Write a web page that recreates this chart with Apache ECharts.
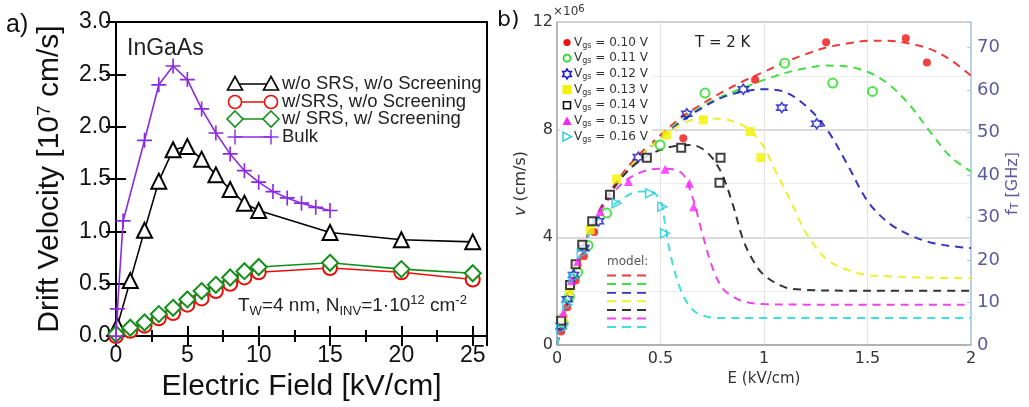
<!DOCTYPE html>
<html>
<head>
<meta charset="utf-8">
<script src="https://cdn.jsdelivr.net/npm/echarts@6/dist/echarts.min.js"></script>
<style>
  html, body { margin: 0; padding: 0; background: #fff; }
  #chart { width: 1029px; height: 407px; }
</style>
</head>
<body>
<div id="chart"></div>
<script>
// ---------- Panel a: InGaAs drift velocity vs electric field ----------
const namesA = ['w/o SRS, w/o Screening', 'w/SRS, w/o Screening', 'w/ SRS, w/ Screening', 'Bulk'];
const fieldNoSrs = [0.1, 1, 2, 3, 4, 5, 6, 7, 8, 9, 10, 15, 20, 25];
const velNoSrsNoScr = [0.10, 0.53, 1.01, 1.48, 1.78, 1.81, 1.69, 1.54, 1.40, 1.27, 1.20, 0.99, 0.92, 0.90];
const fieldSrs = [0, 1, 2, 3, 4, 5, 6, 7, 8, 9, 10, 15, 20, 25];
const velSrsNoScr = [0.00, 0.05, 0.10, 0.17, 0.22, 0.30, 0.36, 0.43, 0.50, 0.56, 0.61, 0.65, 0.61, 0.54];
const velSrsScr = [0.02, 0.08, 0.13, 0.21, 0.27, 0.35, 0.43, 0.49, 0.56, 0.62, 0.66, 0.70, 0.64, 0.60];
const fieldBulk = [0, 0.1, 0.5, 2, 3, 4, 5, 6, 7, 8, 9, 10, 11, 12, 13, 14, 15];
const velBulk = [0, 0.26, 1.10, 1.87, 2.40, 2.58, 2.45, 2.17, 1.94, 1.74, 1.58, 1.47, 1.38, 1.32, 1.27, 1.23, 1.20];

// ---------- Panel b: velocity vs field at T = 2 K, per gate voltage ----------
const gateVoltages = ['0.10', '0.11', '0.12', '0.13', '0.14', '0.15', '0.16'];

// measured points [E (kV/cm), v (1e6 cm/s)]
const meas010 = [[0.02,0.5],[0.05,1.4],[0.09,2.4],[0.13,3.3],[0.18,4.2],[0.61,7.68],[0.957,9.85],[1.30,11.25],[1.685,11.4],[1.787,10.5]];
const meas011 = [[0.03,0.8],[0.06,1.8],[0.10,2.7],[0.15,3.7],[0.24,4.9],[0.498,7.43],[0.715,9.36],[1.10,10.47],[1.332,9.73],[1.524,9.42]];
const meas012 = [[0.02,0.7],[0.05,1.7],[0.08,2.6],[0.13,3.6],[0.20,4.6],[0.393,6.98],[0.627,8.59],[0.90,9.5],[1.086,8.82],[1.255,8.22]];
const meas013 = [[0.03,1.0],[0.06,2.0],[0.10,3.0],[0.16,4.28],[0.288,6.17],[0.53,7.8],[0.707,8.36],[0.933,7.93],[0.985,6.96]];
const meas014 = [[0.02,0.9],[0.063,2.23],[0.09,3.0],[0.122,3.72],[0.17,4.6],[0.256,5.58],[0.434,6.96],[0.60,7.33],[0.79,6.96],[0.785,6.03]];
const meas015 = [[0.03,1.2],[0.07,2.4],[0.10,3.1],[0.208,4.96],[0.345,6.07],[0.522,6.53],[0.64,6.01],[0.66,5.14]];
const meas016 = [[0.02,0.6],[0.05,1.5],[0.08,2.5],[0.12,3.4],[0.288,5.27],[0.45,5.64],[0.509,5.14],[0.522,4.15]];

// model curves
const modelE010 = [0,0.05,0.1,0.15,0.2,0.3,0.4,0.5,0.6,0.7,0.8,0.9,1.0,1.1,1.2,1.3,1.4,1.5,1.6,1.7,1.8,1.9,2.0];
const modelV010 = [0,1.6,3.0,4.1,4.95,6.2,7.1,7.8,8.45,8.95,9.4,9.8,10.15,10.5,10.8,11.05,11.2,11.3,11.3,11.2,11.0,10.6,10.0];
const modelE011 = [0,0.05,0.1,0.15,0.2,0.3,0.4,0.5,0.6,0.7,0.8,0.9,1.0,1.1,1.2,1.3,1.4,1.5,1.6,1.7,1.8,1.9,2.0];
const modelV011 = [0,1.6,3.0,4.1,4.9,6.1,7.0,7.7,8.35,8.85,9.25,9.55,9.85,10.1,10.28,10.38,10.35,10.15,9.7,8.95,7.95,7.0,6.45];
const modelE012 = [0,0.05,0.1,0.15,0.2,0.3,0.4,0.5,0.6,0.7,0.8,0.9,1.0,1.1,1.2,1.3,1.4,1.5,1.6,1.7,1.8,1.9,2.0];
const modelV012 = [0,1.6,3.0,4.1,4.9,6.1,7.0,7.65,8.3,8.8,9.2,9.42,9.5,9.4,8.9,8.05,6.75,5.35,4.55,4.1,3.82,3.68,3.6];
const modelE013 = [0,0.05,0.1,0.15,0.2,0.3,0.4,0.5,0.6,0.7,0.8,0.9,0.95,1.0,1.05,1.1,1.15,1.2,1.3,1.4,1.5,1.6,1.8,2.0];
const modelV013 = [0,1.6,3.0,4.1,4.9,6.1,7.0,7.65,8.2,8.42,8.4,8.15,7.85,7.35,6.55,5.8,5.0,4.2,3.2,2.8,2.6,2.55,2.5,2.48];
const modelE014 = [0,0.05,0.1,0.15,0.2,0.3,0.4,0.5,0.6,0.65,0.7,0.75,0.8,0.85,0.9,0.95,1.0,1.1,1.2,1.4,1.6,2.0];
const modelV014 = [0,1.6,3.0,4.1,4.9,6.1,6.85,7.25,7.42,7.43,7.3,6.95,6.3,5.2,3.9,3.1,2.6,2.15,2.05,2.02,2.02,2.02];
const modelE015 = [0,0.05,0.1,0.15,0.2,0.3,0.4,0.5,0.6,0.65,0.7,0.75,0.8,0.85,0.9,1.0,1.2,1.5,2.0];
const modelV015 = [0,1.6,3.0,4.1,4.85,5.9,6.4,6.55,6.4,5.6,4.2,2.9,2.1,1.8,1.62,1.52,1.5,1.5,1.5];
const modelE016 = [0,0.05,0.1,0.15,0.2,0.3,0.4,0.45,0.5,0.52,0.55,0.6,0.65,0.7,0.8,1.0,1.5,2.0];
const modelV016 = [0,1.6,3.0,4.0,4.7,5.35,5.7,5.7,5.35,4.6,3.3,2.0,1.35,1.1,1.0,1.0,1.0,1.0];

const FA = 'Liberation Sans';
const FB = 'DejaVu Sans';

const zip = (xs, ys) => xs.map((x, i) => [x, ys[i]]);

const hexagram = 'path://M10,0L12.89,5L18.66,5L15.77,10L18.66,15L12.89,15L10,20L7.11,15L1.34,15L4.23,10L1.34,5L7.11,5Z';
const rightTri = 'path://M0,0L10,5L0,10Z';
const crossMark = 'path://M0,4.45H10V5.55H0Z M4.45,0H5.55V10H4.45Z';

// per-voltage look: marker colour, line colour, symbol, filled?, size
const styleB = [
  { mc: '#ee1111', lc: '#f03a3a', sym: 'circle', fill: true, size: 8 },
  { mc: '#22dd22', lc: '#44dd44', sym: 'emptyCircle', fill: false, size: 9 },
  { mc: '#1515cc', lc: '#3535c0', sym: hexagram, fill: false, size: 10 },
  { mc: '#f2f200', lc: '#eeee30', sym: 'rect', fill: true, size: 9 },
  { mc: '#111111', lc: '#333333', sym: 'emptyRect', fill: false, size: 8 },
  { mc: '#ff22ff', lc: '#ee44ee', sym: 'triangle', fill: true, size: 9 },
  { mc: '#22ccdd', lc: '#44dde0', sym: rightTri, fill: false, size: 9 }
];
const measB = [meas010, meas011, meas012, meas013, meas014, meas015, meas016];
const modelB = [zip(modelE010, modelV010), zip(modelE011, modelV011), zip(modelE012, modelV012),
  zip(modelE013, modelV013), zip(modelE014, modelV014), zip(modelE015, modelV015), zip(modelE016, modelV016)];

// ---------- series ----------
const colorsA = ['#000000', '#e8100a', '#13901a', '#8a2be2'];
const series = [
  { name: namesA[0], data: zip(fieldNoSrs, velNoSrsNoScr), symbol: 'emptyTriangle', symbolSize: 15 },
  { name: namesA[1], data: zip(fieldSrs, velSrsNoScr), symbol: 'emptyCircle', symbolSize: 14 },
  { name: namesA[2], data: zip(fieldSrs, velSrsScr), symbol: 'emptyDiamond', symbolSize: 16 },
  { name: namesA[3], data: zip(fieldBulk, velBulk), symbol: crossMark, symbolSize: 15 }
].map((s, i) => ({
  type: 'line', xAxisIndex: 0, yAxisIndex: 0, name: s.name, data: s.data,
  symbol: s.symbol, symbolSize: s.symbolSize, showAllSymbol: true,
  lineStyle: { color: colorsA[i], width: 1.6 },
  itemStyle: { color: colorsA[i], borderWidth: i === 3 ? 0 : 1.6 },
  z: 3 + i, animation: false
}));

modelB.forEach((d, i) => series.push({
  type: 'line', xAxisIndex: 2, yAxisIndex: 2, name: 'model ' + gateVoltages[i], data: d,
  smooth: 0.35, symbol: 'none',
  lineStyle: { color: styleB[i].lc, width: 2, type: [8, 6] }, z: 2
}));
measB.forEach((d, i) => {
  const st = styleB[i];
  const custom = st.sym.indexOf('path://') === 0;
  series.push({
    type: 'scatter', xAxisIndex: 2, yAxisIndex: 2, name: 'V_gs = ' + gateVoltages[i] + ' V', data: d,
    symbol: st.sym, symbolSize: st.size,
    itemStyle: custom
      ? { color: 'rgba(255,255,255,0)', borderColor: st.mc, borderWidth: 1.6 }
      : { color: st.mc, borderWidth: st.fill ? 0 : 1.8, borderColor: st.mc },
    z: 4
  });
});

// ---------- legend and annotations ----------
const graphics = [];
// panel a legend: symbol at both ends of a short line
const legAY = [84, 102, 119, 137];
namesA.forEach((nm, i) => {
  const y = legAY[i], c = colorsA[i], xs = [235, 271];
  graphics.push({ type: 'line', shape: { x1: xs[0], y1: y, x2: xs[1], y2: y }, style: { stroke: c, lineWidth: 1.6 }, z: 10 });
  xs.forEach(x => {
    if (i === 0) graphics.push({ type: 'polygon', shape: { points: [[x, y - 7.5], [x + 7.5, y + 6], [x - 7.5, y + 6]] }, style: { fill: '#fff', stroke: c, lineWidth: 1.6 }, z: 11 });
    if (i === 1) graphics.push({ type: 'circle', shape: { cx: x, cy: y, r: 6.5 }, style: { fill: '#fff', stroke: c, lineWidth: 1.6 }, z: 11 });
    if (i === 2) graphics.push({ type: 'polygon', shape: { points: [[x, y - 8], [x + 8, y], [x, y + 8], [x - 8, y]] }, style: { fill: '#fff', stroke: c, lineWidth: 1.6 }, z: 11 });
    if (i === 3) {
      graphics.push({ type: 'line', shape: { x1: x - 7.5, y1: y, x2: x + 7.5, y2: y }, style: { stroke: c, lineWidth: 1.4 }, z: 11 });
      graphics.push({ type: 'line', shape: { x1: x, y1: y - 7.5, x2: x, y2: y + 7.5 }, style: { stroke: c, lineWidth: 1.4 }, z: 11 });
    }
  });
  graphics.push({ type: 'text', x: 282, y: y, style: { text: nm, fontFamily: FA, fontSize: 18.5, fill: '#222', align: 'left', verticalAlign: 'middle' }, z: 11 });
});
graphics.push({ type: 'text', x: 6, y: 25, style: { text: 'a)', fontFamily: FA, fontSize: 25, fill: '#111', align: 'left', verticalAlign: 'middle' } });
graphics.push({ type: 'text', x: 127, y: 49, style: { text: 'InGaAs', fontFamily: FA, fontSize: 23, fill: '#222', align: 'left', verticalAlign: 'middle' } });
graphics.push({ type: 'text', x: 238, y: 306, style: {
  text: 'T{sub|W}=4 nm, N{sub|INV}=1·10{sup|12} cm{sup|-2}', fontFamily: FA, fontSize: 19, fill: '#222', align: 'left', verticalAlign: 'middle',
  rich: { sub: { fontFamily: FA, fontSize: 13, fill: '#222', verticalAlign: 'bottom', padding: [11, 0, 0, 0] },
          sup: { fontFamily: FA, fontSize: 13, fill: '#222', verticalAlign: 'top', padding: [0, 0, 9, 0] } }
} });

// panel b labels
graphics.push({ type: 'text', x: 497, y: 20, style: { text: 'b)', fontFamily: FB, fontSize: 22, fill: '#111', align: 'left', verticalAlign: 'middle' } });
graphics.push({ type: 'text', x: 553, y: 12, style: {
  text: '×10{sup|6}', fontFamily: FB, fontSize: 12, fill: '#333', align: 'left', verticalAlign: 'middle',
  rich: { sup: { fontFamily: FB, fontSize: 10, fill: '#333', verticalAlign: 'top', padding: [0, 0, 6, 0] } }
} });
graphics.push({ type: 'text', x: 695, y: 43, style: { text: 'T = 2 K', fontFamily: FB, fontSize: 15, fill: '#222', align: 'left', verticalAlign: 'middle' } });

// panel b legend (white box) with voltage entries
graphics.push({ type: 'rect', shape: { x: 560, y: 33, width: 92, height: 112 }, style: { fill: '#fff' }, z: 5 });
gateVoltages.forEach((gv, i) => {
  const y = 42.5 + i * 15.7, x = 567, st = styleB[i];
  let g;
  if (i === 0) g = { type: 'circle', shape: { cx: x, cy: y, r: 3.6 }, style: { fill: st.mc } };
  if (i === 1) g = { type: 'circle', shape: { cx: x, cy: y, r: 3.5 }, style: { fill: '#fff', stroke: st.mc, lineWidth: 1.8 } };
  if (i === 2) g = { type: 'polygon', shape: { points: [[0,-5],[1.44,-2.5],[4.33,-2.5],[2.89,0],[4.33,2.5],[1.44,2.5],[0,5],[-1.44,2.5],[-4.33,2.5],[-2.89,0],[-4.33,-2.5],[-1.44,-2.5]].map(p => [x + p[0], y + p[1]]) }, style: { fill: 'none', stroke: st.mc, lineWidth: 1.5 } };
  if (i === 3) g = { type: 'rect', shape: { x: x - 4.5, y: y - 4.5, width: 9, height: 9 }, style: { fill: st.mc } };
  if (i === 4) g = { type: 'rect', shape: { x: x - 3.5, y: y - 3.5, width: 7, height: 7 }, style: { fill: '#fff', stroke: st.mc, lineWidth: 1.6 } };
  if (i === 5) g = { type: 'polygon', shape: { points: [[x, y - 4.5], [x + 4.5, y + 4], [x - 4.5, y + 4]] }, style: { fill: st.mc } };
  if (i === 6) g = { type: 'polygon', shape: { points: [[x - 4, y - 4.5], [x + 4.5, y], [x - 4, y + 4.5]] }, style: { fill: '#fff', stroke: st.mc, lineWidth: 1.4 } };
  g.z = 6;
  graphics.push(g);
  graphics.push({ type: 'text', x: 574, y: y, z: 6, style: {
    text: 'V{sub|gs} = ' + gv + ' V', fontFamily: FB, fontSize: 12, fill: '#333', align: 'left', verticalAlign: 'middle',
    rich: { sub: { fontFamily: FB, fontSize: 8, fill: '#333', verticalAlign: 'bottom', padding: [6, 0, 0, 0] } }
  } });
});
// model legend
graphics.push({ type: 'text', x: 607, y: 262, style: { text: 'model:', fontFamily: FB, fontSize: 12, fill: '#555', align: 'left', verticalAlign: 'middle' } });
styleB.forEach((st, i) => {
  const y = 275.5 + i * 8.6;
  graphics.push({ type: 'line', shape: { x1: 607, y1: y, x2: 646, y2: y }, style: { stroke: st.lc, lineWidth: 2, lineDash: [9, 6] } });
});

// ---------- axes ----------
const axisBlack = { lineStyle: { color: '#000', width: 2 } };
const tickA = { inside: true, length: 10, lineStyle: { color: '#000', width: 2 } };
const minorA = { show: true, splitNumber: 2, length: 6, lineStyle: { color: '#000', width: 2 } };

const option = {
  animation: false,
  backgroundColor: '#fff',
  grid: [
    { left: 116, top: 22, width: 371, height: 324, show: true, borderColor: '#000', borderWidth: 2, backgroundColor: 'transparent' },
    { left: 557, top: 22, width: 414, height: 323, show: true, borderColor: '#b8b8b8', borderWidth: 1, backgroundColor: 'transparent' }
  ],
  xAxis: [
    { gridIndex: 0, type: 'value', min: 0, max: 26, interval: 5, position: 'bottom',
      axisLine: axisBlack, axisTick: tickA, minorTick: minorA, splitLine: { show: false },
      axisLabel: { fontFamily: FA, fontSize: 23, color: '#111', margin: 8, formatter: v => (v % 5 === 0 ? String(v) : '') },
      name: 'Electric Field [kV/cm]', nameLocation: 'middle', nameGap: 30,
      nameTextStyle: { fontFamily: FA, fontSize: 30, color: '#111' } },
    { gridIndex: 0, type: 'value', min: 0, max: 26, interval: 5, position: 'top',
      axisLine: axisBlack, axisTick: tickA, minorTick: minorA, splitLine: { show: false }, axisLabel: { show: false } },
    { gridIndex: 1, type: 'value', min: 0, max: 2, interval: 0.5, position: 'bottom',
      axisLine: { lineStyle: { color: '#a8a8a8', width: 1.5 } }, axisTick: { show: false },
      splitLine: { show: true, lineStyle: { color: '#e2e2e2', width: 1 } },
      axisLabel: { fontFamily: FB, fontSize: 16, color: '#333', margin: 6 },
      name: 'E (kV/cm)', nameLocation: 'middle', nameGap: 22,
      nameTextStyle: { fontFamily: FB, fontSize: 15, color: '#333' } }
  ],
  yAxis: [
    { gridIndex: 0, type: 'value', min: 0, max: 3, interval: 0.5, position: 'left',
      axisLine: axisBlack, axisTick: tickA, splitLine: { show: false },
      axisLabel: { fontFamily: FA, fontSize: 23, color: '#111', margin: 5, formatter: v => v.toFixed(1) },
      name: 'Drift Velocity [10{s|7} cm/s]', nameLocation: 'middle', nameGap: 51,
      nameTextStyle: { fontFamily: FA, fontSize: 30, color: '#111',
        rich: { s: { fontFamily: FA, fontSize: 19, color: '#111', verticalAlign: 'top', padding: [0, 0, 11, 0] } } } },
    { gridIndex: 0, type: 'value', min: 0, max: 3, interval: 0.5, position: 'right',
      axisLine: axisBlack, axisTick: tickA, splitLine: { show: false }, axisLabel: { show: false } },
    { gridIndex: 1, type: 'value', min: 0, max: 12, interval: 4, position: 'left',
      axisLine: { lineStyle: { color: '#a8a8a8', width: 1.5 } }, axisTick: { show: false },
      splitLine: { show: true, lineStyle: { color: '#cfcfcf', width: 1.5 } },
      minorSplitLine: { show: true, lineStyle: { color: '#ededed', width: 1 } },
      minorTick: { show: false, splitNumber: 2 },
      axisLabel: { fontFamily: FB, fontSize: 16, color: '#333', margin: 4 },
      name: '{i|v} (cm/s)', nameLocation: 'middle', nameGap: 21, nameRotate: 90,
      nameTextStyle: { fontFamily: FB, fontSize: 16, color: '#333',
        rich: { i: { fontFamily: FB, fontStyle: 'italic', fontSize: 16, color: '#333' } } } },
    { gridIndex: 1, type: 'value', min: 0, max: 76, interval: 10, position: 'right',
      axisLine: { lineStyle: { color: '#a9cde9', width: 1.5 } },
      axisTick: { show: true, inside: true, length: 4, lineStyle: { color: '#a9cde9', width: 1.2 } },
      splitLine: { show: false },
      axisLabel: { fontFamily: FB, fontSize: 18, color: '#5a5a9c', margin: 6, formatter: v => (v % 10 === 0 ? String(v) : '') },
      name: 'f{sub|T} [GHz]', nameLocation: 'middle', nameGap: 33, nameRotate: 90,
      nameTextStyle: { fontFamily: FB, fontSize: 16, color: '#5a5a9c',
        rich: { sub: { fontFamily: FB, fontSize: 11, color: '#5a5a9c', verticalAlign: 'bottom', padding: [6, 0, 0, 0] } } } }
  ],
  graphic: graphics,
  series: series
};

const chart = echarts.init(document.getElementById('chart'), null, { renderer: 'canvas' });
chart.setOption(option);
</script>
</body>
</html>
